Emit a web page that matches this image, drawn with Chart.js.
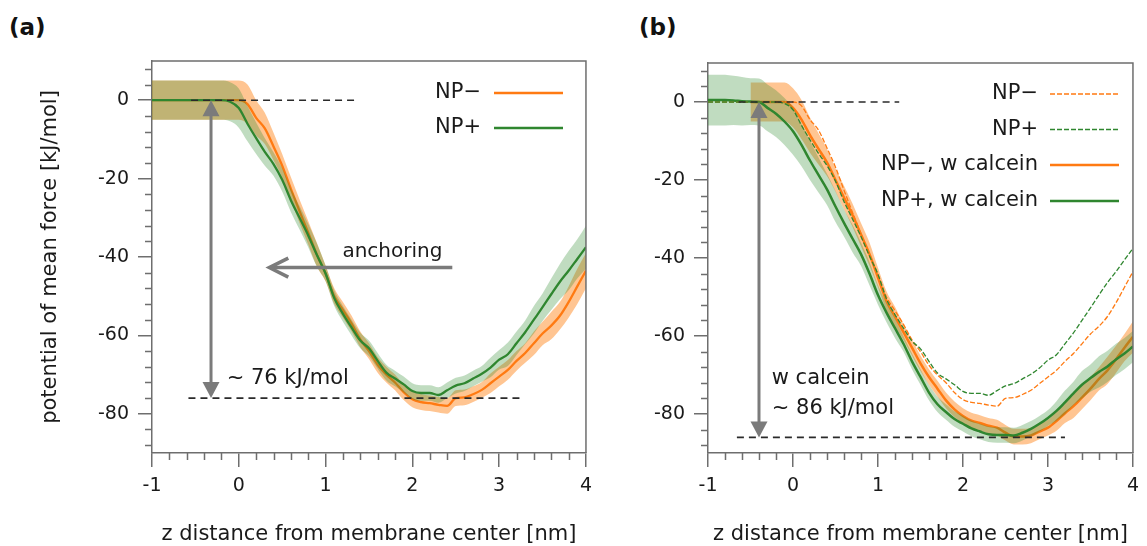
<!DOCTYPE html>
<html>
<head>
<meta charset="utf-8">
<script src="https://cdn.jsdelivr.net/npm/chart.js@4.4.0/dist/chart.umd.min.js"></script>
<style>
  html, body { margin: 0; padding: 0; background: #fff; }
  body { width: 1147px; height: 546px; position: relative; overflow: hidden; font-family: 'DejaVu Sans', sans-serif; }
  canvas { position: absolute; top: 0; }
  #chartA { left: 0; }
  #chartB { left: 600px; }
  .panel { position: absolute; top: 14px; font-weight: bold; font-size: 23px; color: #111; }
</style>
</head>
<body>
<div class="panel" style="left:9px">(a)</div>
<div class="panel" style="left:639px">(b)</div>
<canvas id="chartA" width="600" height="546"></canvas>
<canvas id="chartB" width="547" height="546"></canvas>
<script>
// eje z [nm] y marcas
const zValues = [-1.0,-0.9,-0.8,-0.7,-0.6,-0.5,-0.4,-0.3,-0.2,-0.1,0.0,0.1,0.2,0.3,0.4,0.5,0.6,0.7,0.8,0.9,1.0,1.1,1.2,1.3,1.4,1.5,1.6,1.7,1.8,1.9,2.0,2.1,2.2,2.3,2.4,2.5,2.6,2.7,2.8,2.9,3.0,3.1,3.2,3.3,3.4,3.5,3.6,3.7,3.8,3.9,4.0];
const xTickValues = [-1, 0, 1, 2, 3, 4];
const yTickValues = [-80, -60, -40, -20, 0];

// panel (a): sin calceína
const pmfNPminus = [0,0,0,0,0,0,0,0,0,0,0,-1,-4.5,-7.2,-11.8,-16.7,-22.6,-28.3,-33.8,-39.4,-44.2,-50,-53.5,-57,-61,-64,-67.5,-70,-72,-74.5,-76.3,-77,-77.3,-77.7,-78,-76,-75.8,-75,-73.9,-72.2,-70.5,-68.8,-66.5,-64.5,-62,-59.5,-57.5,-55,-51.5,-47.5,-43.5];
const errNPminus = [5,5,5,5,5,5,5,5,5,5,5,5,4.5,4,3.5,3,3,3,3,3,2,2,2,2,2,2,2,2,2,2,2,2,2,2,2,2,2,2,2,2.5,2.5,2.5,2.5,2.5,3,3,3.5,3.5,4,4.5,4.5];
const pmfNPplus = [0,0,0,0,0,0,0,0,0,-0.4,-2,-6,-9.7,-13.2,-16.3,-20.3,-25.5,-30,-34.5,-39.5,-44.2,-50.5,-54.5,-58,-61.3,-63.3,-66.5,-69.5,-71,-72.5,-74.2,-74.7,-74.7,-75.2,-74,-72.8,-72.2,-71,-69.8,-68.2,-66.2,-64.8,-62,-59.2,-56,-52.8,-49.5,-46.3,-43.5,-40.5,-37.5];
const errNPplus = [5,5,5,5,5,5,5,5,5,5,5,4.5,4,3.5,3,3,3,3,3,3,2,2,2,2,2,2,2,2,2,2,2,2,2,2,2,2,2,2,2,2.5,2.5,3,3,3,3.5,3.5,4,4.5,5,5,5.5];

// panel (b): con calceína
const pmfNPminusCalcein = [null,null,null,null,null,0,0,0,0,0,-1.5,-4.5,-8.5,-12,-15.5,-20,-24.5,-29,-34,-39,-45,-51,-55,-59,-63,-67,-70.5,-73.5,-76.5,-78.8,-80.5,-81.7,-82.3,-83,-83.5,-84.8,-85.8,-85.8,-85.5,-84.5,-83.5,-81.8,-79.8,-78,-75.8,-73.5,-71,-68.8,-66,-63,-60.2];
const errNPminusCalcein = [null,null,null,null,null,5,5,5,5,5,5,5,4.5,4,3.5,3,3,3,3,3,2.5,2.5,2.5,2,2,2,2,2,2,2,2,2,2,2,2,2,2,2,2,2,2,2.5,2.5,3,3,3,3,3.5,3.5,3.5,4];
const pmfNPplusCalcein = [0.5,0.5,0.5,0.4,0.2,0.1,0,-1.5,-3,-5,-7.5,-11,-15,-18.7,-22.4,-26.8,-31,-35,-39,-44,-49.5,-54,-58,-62,-66.5,-70.5,-74.5,-77.5,-79.5,-81.3,-82.5,-83.7,-84.5,-85.2,-85.4,-85.4,-85.5,-84.8,-83.8,-82.5,-81,-79.2,-77,-74.7,-72.5,-70.8,-69.2,-67.8,-66,-64.5,-62.7];
const errNPplusCalcein = [6.5,6.5,6.5,6.3,6.2,6,6,6,6,6,6,5.5,5,4.5,4,4,3.5,3.5,3,3,2.5,2.5,2.5,2,2,2,2,2,2,2,2,2,2,2,2,2,2,2,2,2,2,2.5,3,3,3.5,3.5,4,4,4,4,4];

// líneas de referencia discontinuas [z inicio, z fin] y profundidades
const refZeroA = [-0.55, 1.34];
const refMinA = [-0.58, 3.27];
const depthA = -76;
const refZeroB = [-0.64, 1.25];
const refMinB = [-0.66, 3.2];
const depthB = -86;

// colores
const orange = '#ff7a12';
const green = '#2f862f';
const orangeBand = 'rgba(255,127,14,0.45)';
const greenBand = 'rgba(46,139,46,0.30)';
const axisColor = '#6e6e6e';
const textColor = '#1a1a1a';
const arrowColor = '#7b7b7b';

Chart.defaults.font.family = "'DejaVu Sans', sans-serif";
Chart.defaults.color = textColor;

function pts(ys) { return zValues.map((z, i) => ({ x: z, y: ys[i] })); }
function shifted(ys, errs, sign) { return ys.map((v, i) => v === null ? null : v + sign * errs[i]); }
function segment(range, value) { return range.map(z => ({ x: z, y: value })); }

function lineSet(ys, color, width, order, dash) {
    return { data: pts(ys), borderColor: color, borderWidth: width, borderDash: dash || [],
        pointRadius: 0, fill: false, cubicInterpolationMode: 'monotone', order };
}
function bandSets(ys, errs, color, order) {
    return [
        { data: pts(shifted(ys, errs, 1)), borderWidth: 0, pointRadius: 0, backgroundColor: color,
          fill: '+1', cubicInterpolationMode: 'monotone', order },
        { data: pts(shifted(ys, errs, -1)), borderWidth: 0, pointRadius: 0, fill: false,
          cubicInterpolationMode: 'monotone', order }
    ];
}
function refSet(range, value) {
    return { data: segment(range, value), borderColor: '#2a2a2a', borderWidth: 1.6, borderDash: [7, 5],
        pointRadius: 0, fill: false, order: -1 };
}

function axes(yWidth, showYTitle) {
    return {
        x: {
            type: 'linear', min: -1, max: 4,
            afterBuildTicks: s => { s.ticks = xTickValues.map(v => ({ value: v })); },
            afterFit: s => { s.height = 93; },
            ticks: { autoSkip: false, maxRotation: 0, padding: 8, font: { size: 19 }, color: textColor, callback: v => String(v) },
            grid: { drawOnChartArea: false, tickLength: 14, color: axisColor, lineWidth: 1.5 },
            border: { color: axisColor, width: 1.5 },
            title: { display: true, text: 'z distance from membrane center [nm]', font: { size: 21 }, color: textColor, padding: { top: 0, bottom: -1 } }
        },
        y: {
            type: 'linear', min: -90, max: 10,
            afterBuildTicks: s => { s.ticks = yTickValues.map(v => ({ value: v })); },
            afterFit: s => { s.width = yWidth; },
            ticks: { autoSkip: false, padding: 9, font: { size: 19 }, color: textColor, callback: v => String(v) },
            grid: { drawOnChartArea: false, tickLength: 14, color: axisColor, lineWidth: 1.5 },
            border: { color: axisColor, width: 1.5 },
            title: { display: showYTitle, text: 'potential of mean force [kJ/mol]', font: { size: 21 }, color: textColor, padding: { top: 38, bottom: 0 } }
        }
    };
}

// marco y marcas menores
const framePlugin = {
    id: 'frame',
    afterDraw(chart) {
        const { ctx, chartArea: a, scales: { x, y } } = chart;
        ctx.save();
        ctx.strokeStyle = axisColor;
        ctx.lineWidth = 1.5;
        ctx.beginPath();
        ctx.moveTo(a.left, a.top); ctx.lineTo(a.right, a.top); ctx.lineTo(a.right, a.bottom);
        ctx.stroke();
        ctx.beginPath();
        for (let k = -5; k <= 20; k++) {
            if (k % 5 === 0) continue;
            const px = Math.round(x.getPixelForValue(k / 5)) + 0.5;
            ctx.moveTo(px, a.bottom); ctx.lineTo(px, a.bottom + 7);
        }
        for (let k = -22; k <= 2; k++) {
            if (k % 5 === 0) continue;
            const py = Math.round(y.getPixelForValue(k * 4)) + 0.5;
            ctx.moveTo(a.left - 7, py); ctx.lineTo(a.left, py);
        }
        ctx.stroke();
        ctx.restore();
    }
};

function arrowHead(ctx, x, y, dir) {
    ctx.beginPath();
    ctx.moveTo(x, y);
    ctx.lineTo(x - 8.5, y + dir * 16);
    ctx.lineTo(x + 8.5, y + dir * 16);
    ctx.closePath();
    ctx.fill();
}

// flechas, textos y leyenda de cada panel
function notesPlugin(cfg) {
    return {
        id: 'notes',
        afterDatasetsDraw(chart) {
            const { ctx, scales: { x, y } } = chart;
            ctx.save();
            ctx.strokeStyle = arrowColor;
            ctx.fillStyle = arrowColor;
            const ax = x.getPixelForValue(cfg.arrowZ);
            const top = y.getPixelForValue(0);
            const bot = y.getPixelForValue(cfg.depth);
            ctx.lineWidth = 3;
            ctx.beginPath(); ctx.moveTo(ax, top + 12); ctx.lineTo(ax, bot - 12); ctx.stroke();
            arrowHead(ctx, ax, top, 1);
            arrowHead(ctx, ax, bot, -1);

            if (cfg.anchor) {
                const t = x.getPixelForValue(cfg.anchor.to), f = x.getPixelForValue(cfg.anchor.from);
                const ay = y.getPixelForValue(cfg.anchor.y);
                ctx.lineWidth = 3.5;
                ctx.beginPath(); ctx.moveTo(f, ay); ctx.lineTo(t + 2, ay); ctx.stroke();
                ctx.beginPath();
                ctx.moveTo(t + 20, ay - 9.5); ctx.lineTo(t + 1, ay); ctx.lineTo(t + 20, ay + 9.5);
                ctx.stroke();
            }

            ctx.fillStyle = textColor;
            ctx.textBaseline = 'middle';
            cfg.texts.forEach(tx => {
                ctx.font = tx.size + "px 'DejaVu Sans'";
                ctx.textAlign = tx.align;
                ctx.fillText(tx.text, x.getPixelForValue(tx.z), y.getPixelForValue(tx.v));
            });

            const lg = cfg.legend;
            ctx.font = "21px 'DejaVu Sans'";
            ctx.textAlign = 'right';
            lg.rows.forEach(r => {
                ctx.fillStyle = textColor;
                ctx.fillText(r.label, lg.textRight, r.y);
                ctx.strokeStyle = r.color;
                ctx.lineWidth = r.width;
                ctx.setLineDash(r.dash);
                ctx.beginPath(); ctx.moveTo(lg.x0, r.y); ctx.lineTo(lg.x1, r.y); ctx.stroke();
                ctx.setLineDash([]);
            });
            ctx.restore();
        }
    };
}

// (a)
new Chart(document.getElementById('chartA'), {
    type: 'line',
    data: {
        datasets: [
            refSet(refZeroA, 0),
            refSet(refMinA, depthA),
            lineSet(pmfNPplus, green, 2.3, 0),
            ...bandSets(pmfNPplus, errNPplus, greenBand, 1),
            lineSet(pmfNPminus, orange, 2.3, 2),
            ...bandSets(pmfNPminus, errNPminus, orangeBand, 3)
        ]
    },
    options: {
        responsive: false, animation: false, devicePixelRatio: 1,
        layout: { padding: { top: 61, right: 13, left: 0, bottom: 0 } },
        plugins: { legend: { display: false }, tooltip: { enabled: false } },
        scales: axes(152, true)
    },
    plugins: [framePlugin, notesPlugin({
        arrowZ: -0.32, depth: depthA,
        anchor: { from: 2.46, to: 0.34, y: -42.7 },
        texts: [
            { text: 'anchoring', z: 1.77, v: -38.6, align: 'center', size: 20 },
            { text: '~ 76 kJ/mol', z: -0.14, v: -70.9, align: 'left', size: 21 }
        ],
        legend: { textRight: 481, x0: 494, x1: 563, rows: [
            { label: 'NP\u2212', y: 93, color: orange, width: 2.3, dash: [] },
            { label: 'NP+', y: 128, color: green, width: 2.3, dash: [] }
        ] }
    })]
});

// (b)
new Chart(document.getElementById('chartB'), {
    type: 'line',
    data: {
        datasets: [
            refSet(refZeroB, 0),
            refSet(refMinB, depthB),
            lineSet(pmfNPplus, green, 1.3, 0, [5, 2]),
            lineSet(pmfNPminus, orange, 1.3, 0, [5, 2]),
            lineSet(pmfNPplusCalcein, green, 2.5, 0.5),
            ...bandSets(pmfNPplusCalcein, errNPplusCalcein, greenBand, 1),
            lineSet(pmfNPminusCalcein, orange, 2.5, 2),
            ...bandSets(pmfNPminusCalcein, errNPminusCalcein, orangeBand, 3)
        ]
    },
    options: {
        responsive: false, animation: false, devicePixelRatio: 1,
        layout: { padding: { top: 63, right: 7, left: 0, bottom: 0 } },
        plugins: { legend: { display: false }, tooltip: { enabled: false } },
        scales: axes(108, false)
    },
    plugins: [framePlugin, notesPlugin({
        arrowZ: -0.4, depth: depthB,
        texts: [
            { text: 'w calcein', z: -0.25, v: -70.8, align: 'left', size: 21 },
            { text: '~ 86 kJ/mol', z: -0.25, v: -78.5, align: 'left', size: 21 }
        ],
        legend: { textRight: 438, x0: 450, x1: 519, rows: [
            { label: 'NP\u2212', y: 94, color: orange, width: 1.3, dash: [5, 2] },
            { label: 'NP+', y: 129.5, color: green, width: 1.3, dash: [5, 2] },
            { label: 'NP\u2212, w calcein', y: 165, color: orange, width: 2.5, dash: [] },
            { label: 'NP+, w calcein', y: 201, color: green, width: 2.5, dash: [] }
        ] }
    })]
});
</script>
</body>
</html>
